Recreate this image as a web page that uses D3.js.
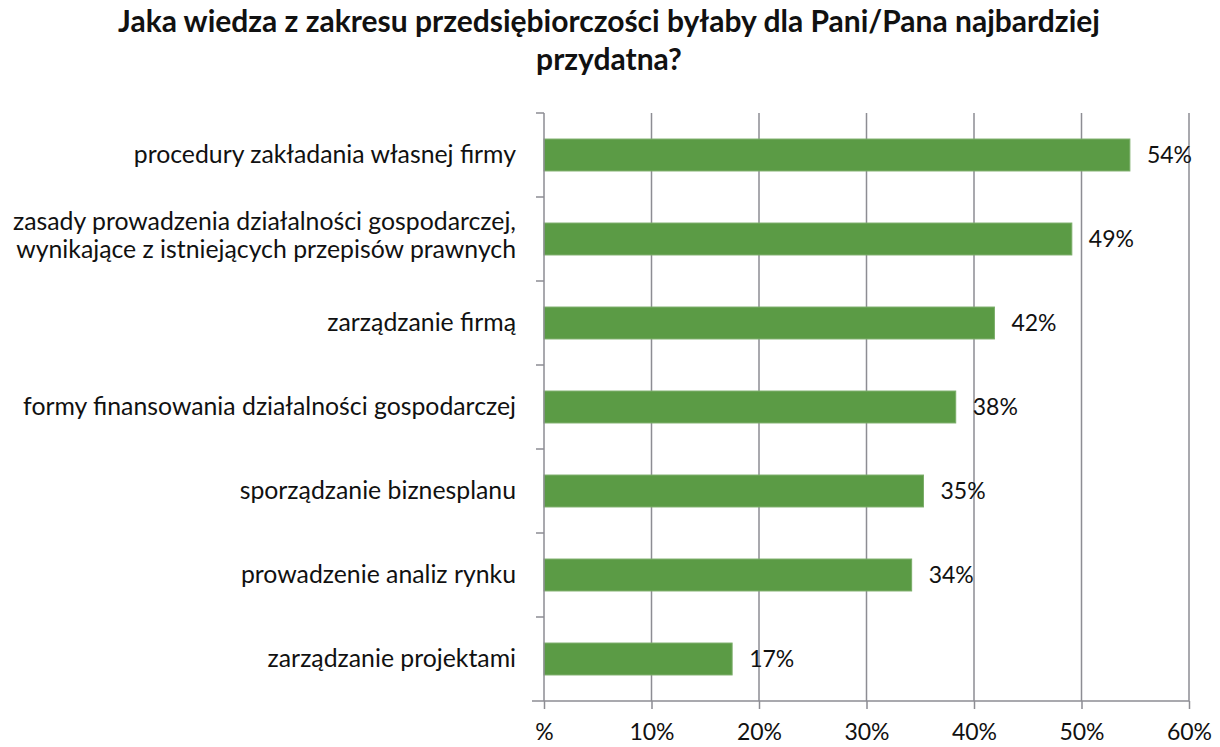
<!DOCTYPE html>
<html>
<head>
<meta charset="utf-8">
<script src="https://cdn.jsdelivr.net/npm/d3@7"></script>
<style>
  body { margin: 0; background: #fff; }
  text { font-family: Lato, "Open Sans", sans-serif; fill: #111; }
</style>
</head>
<body>
<svg id="chart" width="1220" height="747"></svg>
<script>
// data
const categories = [
  ['procedury zakładania własnej firmy'],
  ['zasady prowadzenia działalności gospodarczej,', 'wynikające z istniejących przepisów prawnych'],
  ['zarządzanie firmą'],
  ['formy finansowania działalności gospodarczej'],
  ['sporządzanie biznesplanu'],
  ['prowadzenie analiz rynku'],
  ['zarządzanie projektami']
];
const values = [54.5, 49.1, 41.9, 38.3, 35.3, 34.2, 17.5];
const valueLabels = ['54%', '49%', '42%', '38%', '35%', '34%', '17%'];
const tickValues = [0, 10, 20, 30, 40, 50, 60];
const tickLabels = ['%', '10%', '20%', '30%', '40%', '50%', '60%'];
const titleLines = ['Jaka wiedza z zakresu przedsiębiorczości byłaby dla Pani/Pana najbardziej', 'przydatna?'];

const margin = { top: 113, left: 544, right: 31, bottom: 46 };
const width = 1220, height = 747;
const svg = d3.select('#chart');

const x = d3.scaleLinear().domain([0, 60]).range([margin.left, width - margin.right]);
const y = d3.scaleBand().domain(d3.range(categories.length))
  .range([margin.top, height - margin.bottom]).paddingInner(0.62).paddingOuter(0.31);
const yb = d3.scaleLinear().domain([0, categories.length]).range([margin.top, height - margin.bottom]);

const axisColor = '#8d8d93';

// gridlines
svg.append('g').selectAll('line')
  .data(tickValues.slice(1))
  .enter().append('line')
  .attr('x1', d => x(d)).attr('x2', d => x(d))
  .attr('y1', margin.top).attr('y2', height - margin.bottom)
  .attr('stroke', axisColor).attr('stroke-width', 1.5);

// bars
svg.append('g').selectAll('rect')
  .data(values)
  .enter().append('rect')
  .attr('x', x(0))
  .attr('y', (d, i) => y(i))
  .attr('width', d => x(d) - x(0))
  .attr('height', y.bandwidth())
  .attr('fill', '#5b9b45')
  .attr('stroke', '#7aad68')
  .attr('stroke-width', 1);

// value labels
svg.append('g').selectAll('text')
  .data(values)
  .enter().append('text')
  .attr('x', d => x(d) + 17)
  .attr('y', (d, i) => y(i) + y.bandwidth() / 2)
  .attr('dy', '0.36em')
  .attr('font-size', 23)
  .text((d, i) => valueLabels[i]);

// y axis
svg.append('line')
  .attr('x1', x(0)).attr('x2', x(0))
  .attr('y1', margin.top).attr('y2', height - margin.bottom)
  .attr('stroke', axisColor).attr('stroke-width', 1.5);
svg.append('g').selectAll('line')
  .data(d3.range(categories.length))
  .enter().append('line')
  .attr('x1', x(0) - 8).attr('x2', x(0))
  .attr('y1', d => yb(d)).attr('y2', d => yb(d))
  .attr('stroke', axisColor).attr('stroke-width', 1.5);

// x axis
const xAxis = d3.axisBottom(x).tickValues(tickValues).tickSize(8).tickPadding(15)
  .tickFormat((d, i) => tickLabels[i]);
const gx = svg.append('g')
  .attr('transform', `translate(0,${height - margin.bottom})`)
  .call(xAxis);
gx.select('.domain').attr('d', `M${x(0) - 12},0H${x(60)}`).attr('stroke', axisColor).attr('stroke-width', 1.5);
gx.selectAll('.tick line').attr('stroke', axisColor).attr('stroke-width', 1.5);
gx.selectAll('.tick text').attr('font-size', 23).attr('font-family', 'Lato, sans-serif').attr('fill', '#111');

// category labels
const cat = svg.append('g').selectAll('text')
  .data(categories)
  .enter().append('text')
  .attr('text-anchor', 'end')
  .attr('font-size', 24.8)
  .attr('x', margin.left - 28)
  .attr('y', (d, i) => y(i) + y.bandwidth() / 2);
cat.selectAll('tspan')
  .data(d => d.map((t, j) => ({ t, j, n: d.length })))
  .enter().append('tspan')
  .attr('x', margin.left - 28)
  .attr('dy', d => d.j === 0 ? (d.n > 1 ? '-0.37em' : '0.33em') : '1.13em')
  .text(d => d.t);

// title
svg.append('g').selectAll('text')
  .data(titleLines)
  .enter().append('text')
  .attr('x', 609)
  .attr('y', (d, i) => 32 + i * 38)
  .attr('text-anchor', 'middle')
  .attr('font-size', 30)
  .attr('font-weight', 'bold')
  .text(d => d);
</script>
</body>
</html>
